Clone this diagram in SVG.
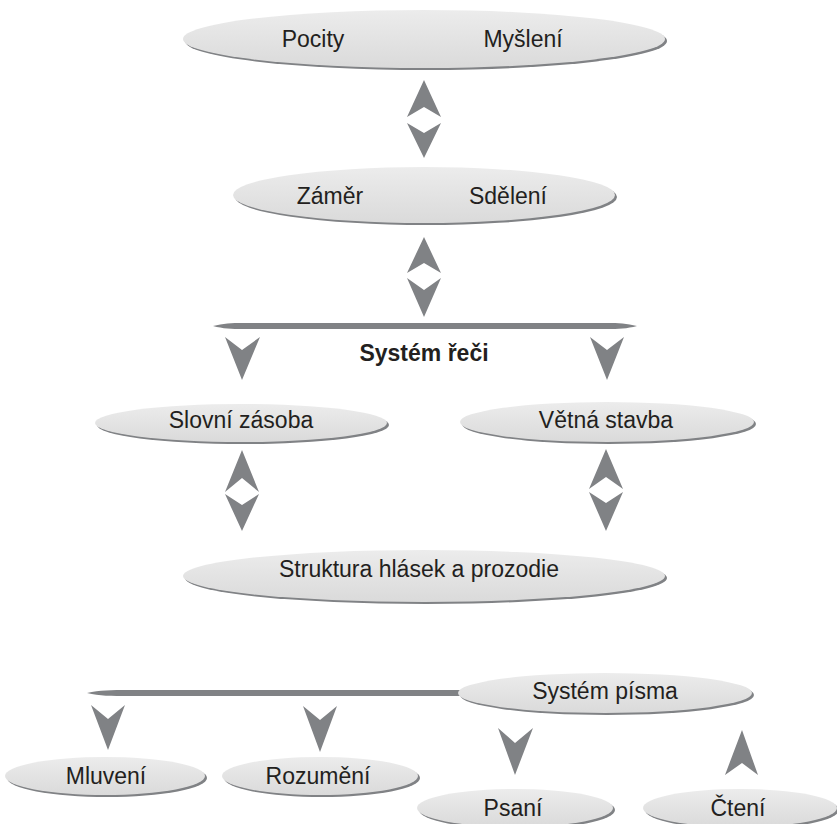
<svg xmlns="http://www.w3.org/2000/svg" width="837" height="824" viewBox="0 0 837 824">
<defs>
<linearGradient id="g" x1="0" y1="0" x2="0" y2="1">
<stop offset="0" stop-color="#ececec"/>
<stop offset="1" stop-color="#dadada"/>
</linearGradient>
<style>
.sh{fill:#808285}
.el{fill:url(#g)}
.t{font-family:"Liberation Sans",Arial,sans-serif;font-size:23px;fill:#231f20;text-anchor:middle}
.b{font-weight:bold}
.ar{fill:#808285}
.bar{fill:#808285}
</style>
</defs>
<rect width="837" height="824" fill="#ffffff"/>

<g id="connectors">
<polygon class="ar" points="424,80 441,117 424,107 407,117"/>
<polygon class="ar" points="407,123 424,133 441,123 424,158"/>
<polygon class="ar" points="424,237 441,273 424,263 407,273"/>
<polygon class="ar" points="407,278 424,290 441,278 424,317"/>
<polygon class="ar" points="225,337 242,350 260,337 242,380"/>
<polygon class="ar" points="590,337 607,350 624,337 607,380"/>
<polygon class="ar" points="242,450 259,492 242,478 225,492"/>
<polygon class="ar" points="225,494 242,505 259,494 242,531"/>
<polygon class="ar" points="606,449 623,489 606,477 589,489"/>
<polygon class="ar" points="589,492 606,503 623,492 606,531"/>
<path class="bar" d="M87,693 C100,690 110,690 130,690 L470,690 L470,696 L130,696 C110,696 100,696 87,693 Z"/>
<polygon class="ar" points="91,705 108,719 125,705 108,750"/>
<polygon class="ar" points="303,706 320,720 337,706 320,752"/>
<polygon class="ar" points="498,728 515,743 533,728 515,775"/>
<polygon class="ar" points="742,730 758,775 742,763 725,775"/>
</g>

<g id="pocity-mysleni">
<ellipse class="sh" cx="426" cy="41" rx="241" ry="29"/>
<ellipse class="el" cx="424" cy="39" rx="241" ry="29"/>
<text class="t" x="313" y="47">Pocity</text>
<text class="t" x="523" y="47">Myšlení</text>
</g>

<g id="zamer-sdeleni">
<ellipse class="sh" cx="426" cy="197" rx="191" ry="28"/>
<ellipse class="el" cx="424" cy="195" rx="191" ry="28"/>
<text class="t" x="330" y="204">Záměr</text>
<text class="t" x="508" y="204">Sdělení</text>
</g>

<g id="system-reci">
<path class="bar" d="M213,326 C228,322 240,323 262,323 L588,323 C610,323 622,322 637,326 C622,330 610,329 588,329 L262,329 C240,329 228,330 213,326 Z"/>
<text class="t b" x="424" y="361">Systém řeči</text>
</g>

<g id="slovni-zasoba">
<ellipse class="sh" cx="243" cy="425" rx="146" ry="19"/>
<ellipse class="el" cx="241" cy="423" rx="146" ry="19"/>
<text class="t" x="241" y="428">Slovní zásoba</text>
</g>

<g id="vetna-stavba">
<ellipse class="sh" cx="609" cy="424" rx="147" ry="20"/>
<ellipse class="el" cx="607" cy="422" rx="147" ry="20"/>
<text class="t" x="606" y="428">Větná stavba</text>
</g>

<g id="struktura">
<ellipse class="sh" cx="426" cy="578" rx="241" ry="26"/>
<ellipse class="el" cx="424" cy="576" rx="241" ry="26"/>
<text class="t" x="419" y="577">Struktura hlásek a prozodie</text>
</g>

<g id="system-pisma">
<ellipse class="sh" cx="607" cy="695" rx="147" ry="20"/>
<ellipse class="el" cx="605" cy="693" rx="147" ry="20"/>
<text class="t" x="605" y="699">Systém písma</text>
</g>

<g id="mluveni">
<ellipse class="sh" cx="107" cy="778" rx="100" ry="19"/>
<ellipse class="el" cx="105" cy="776" rx="100" ry="19"/>
<text class="t" x="106" y="784">Mluvení</text>
</g>

<g id="rozumeni">
<ellipse class="sh" cx="322" cy="778" rx="98" ry="19"/>
<ellipse class="el" cx="320" cy="776" rx="98" ry="19"/>
<text class="t" x="318" y="784">Rozumění</text>
</g>

<g id="psani">
<ellipse class="sh" cx="517" cy="810" rx="98" ry="19"/>
<ellipse class="el" cx="515" cy="808" rx="98" ry="19"/>
<text class="t" x="513" y="816">Psaní</text>
</g>

<g id="cteni">
<ellipse class="sh" cx="742" cy="810" rx="97" ry="19"/>
<ellipse class="el" cx="740" cy="808" rx="97" ry="19"/>
<text class="t" x="738" y="816">Čtení</text>
</g>
</svg>
